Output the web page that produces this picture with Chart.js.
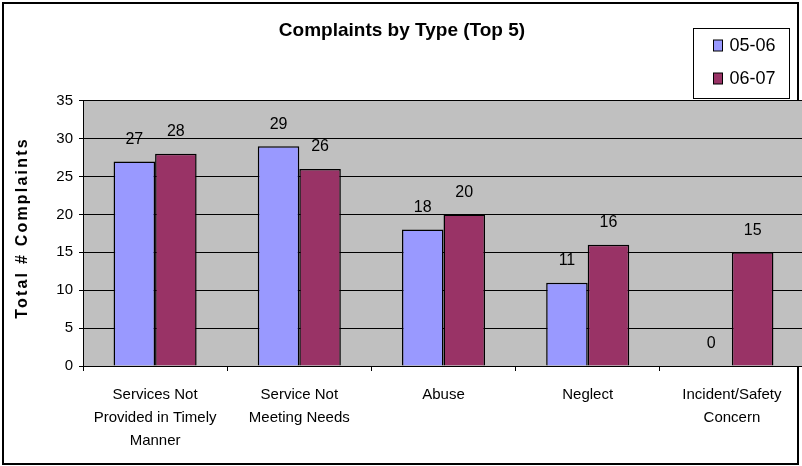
<!DOCTYPE html>
<html>
<head>
<meta charset="utf-8">
<title>Complaints by Type (Top 5)</title>
<script src="https://cdn.jsdelivr.net/npm/chart.js@4.4.1/dist/chart.umd.min.js"></script>
<style>
  html, body { margin: 0; padding: 0; background: #fff; overflow: hidden; width: 802px; height: 466px; }
  #frame { position: absolute; left: 2px; top: 2px; width: 793px; height: 459px; border: 2px solid #000; }
  #chart { position: absolute; left: 0; top: 0; }
</style>
</head>
<body>
<div id="frame"></div>
<canvas id="chart" width="806" height="466"></canvas>
<script>
// Complaints by type, two fiscal years

const chartTitle = 'Complaints by Type (Top 5)';
const yAxisTitle = 'Total # Complaints';

const categories = [
  ['Services Not', 'Provided in Timely', 'Manner'],
  ['Service Not', 'Meeting Needs'],
  'Abuse',
  'Neglect',
  ['Incident/Safety', 'Concern'],
];

const seriesNames = ['05-06', '06-07'];
const values0506 = [27, 29, 18, 11, 0];
const values0607 = [28, 26, 20, 16, 15];

const yMin = 0;
const yMax = 35;
const yStep = 5;

const FONT = "'Liberation Sans', Arial, sans-serif";
const colors = ['#9999FF', '#993366'];

Chart.defaults.font.family = FONT;
Chart.defaults.color = '#000';

// Gray plot background
const plotBackground = {
  id: 'plotBackground',
  beforeDraw(chart) {
    const { ctx, chartArea: a } = chart;
    ctx.save();
    ctx.fillStyle = '#C0C0C0';
    ctx.fillRect(a.left, a.top, a.right - a.left, a.bottom - a.top);
    ctx.restore();
  }
};

// Value labels above each bar
const valueLabels = {
  id: 'valueLabels',
  afterDatasetsDraw(chart) {
    const ctx = chart.ctx;
    ctx.save();
    ctx.font = '16px ' + FONT;
    ctx.fillStyle = '#000';
    ctx.textAlign = 'center';
    ctx.textBaseline = 'middle';
    chart.data.datasets.forEach((ds, i) => {
      chart.getDatasetMeta(i).data.forEach((bar, j) => {
        ctx.fillText(String(ds.data[j]), bar.x, bar.y - 22);
      });
    });
    ctx.restore();
  }
};

// Rotated, letter-spaced y axis title
const yTitle = {
  id: 'yTitle',
  afterDraw(chart) {
    const ctx = chart.ctx;
    ctx.save();
    ctx.translate(27, 228);
    ctx.rotate(-Math.PI / 2);
    ctx.font = 'bold 16px ' + FONT;
    ctx.letterSpacing = '2.2px';
    ctx.fillStyle = '#000';
    ctx.textAlign = 'center';
    ctx.textBaseline = 'alphabetic';
    ctx.fillText(yAxisTitle, 0, 0);
    ctx.restore();
  }
};

// Legend in a bordered box, top right
const boxedLegend = {
  id: 'boxedLegend',
  afterDraw(chart) {
    const ctx = chart.ctx;
    const boxW = 96, boxH = 70;
    const left = chart.width - 17 - boxW + 0.5;
    const top = 28.5;
    ctx.save();
    ctx.fillStyle = '#fff';
    ctx.fillRect(left, top, boxW, boxH);
    ctx.strokeStyle = '#000';
    ctx.lineWidth = 1;
    ctx.strokeRect(left, top, boxW, boxH);
    ctx.font = '18px ' + FONT;
    ctx.textBaseline = 'middle';
    ctx.textAlign = 'left';
    chart.data.datasets.forEach((ds, i) => {
      const cy = top + 17 + i * 33;
      ctx.fillStyle = ds.backgroundColor;
      ctx.fillRect(left + 20, cy - 5.5, 9, 11);
      ctx.strokeRect(left + 20, cy - 5.5, 9, 11);
      ctx.fillStyle = '#000';
      ctx.fillText(ds.label, left + 36, cy + 1);
    });
    ctx.restore();
  }
};

const datasets = [values0506, values0607].map((vals, i) => ({
  label: seriesNames[i],
  data: vals,
  backgroundColor: colors[i],
  borderColor: '#000',
  borderWidth: 1.5,
  categoryPercentage: 0.576,
  barPercentage: 1.0,
}));

new Chart(document.getElementById('chart').getContext('2d'), {
  type: 'bar',
  data: { labels: categories, datasets: datasets },
  plugins: [plotBackground, valueLabels, yTitle, boxedLegend],
  options: {
    responsive: false,
    animation: false,
    layout: { padding: { left: 0, right: 2, top: 0, bottom: 0 } },
    plugins: {
      legend: { display: false },
      tooltip: { enabled: false },
      title: {
        display: true,
        text: chartTitle,
        color: '#000',
        font: { size: 19, weight: 'bold', lineHeight: 1.2 },
        padding: { top: 19, bottom: 59 },
      },
    },
    scales: {
      x: {
        grid: { display: true, drawOnChartArea: false, drawTicks: true, tickLength: 5, color: '#000', offset: true },
        border: { display: true, color: '#000' },
        ticks: { font: { size: 15, lineHeight: 1.55 }, padding: 12, maxRotation: 0, autoSkip: false, color: '#000' },
        afterFit: (scale) => { scale.height = 100; },
      },
      y: {
        min: yMin,
        max: yMax,
        ticks: { stepSize: yStep, font: { size: 15 }, padding: 6, color: '#000' },
        grid: { color: '#000', tickLength: 4 },
        border: { display: true, color: '#000' },
        afterFit: (scale) => { scale.width = 83; },
      },
    },
  },
});
</script>
</body>
</html>
